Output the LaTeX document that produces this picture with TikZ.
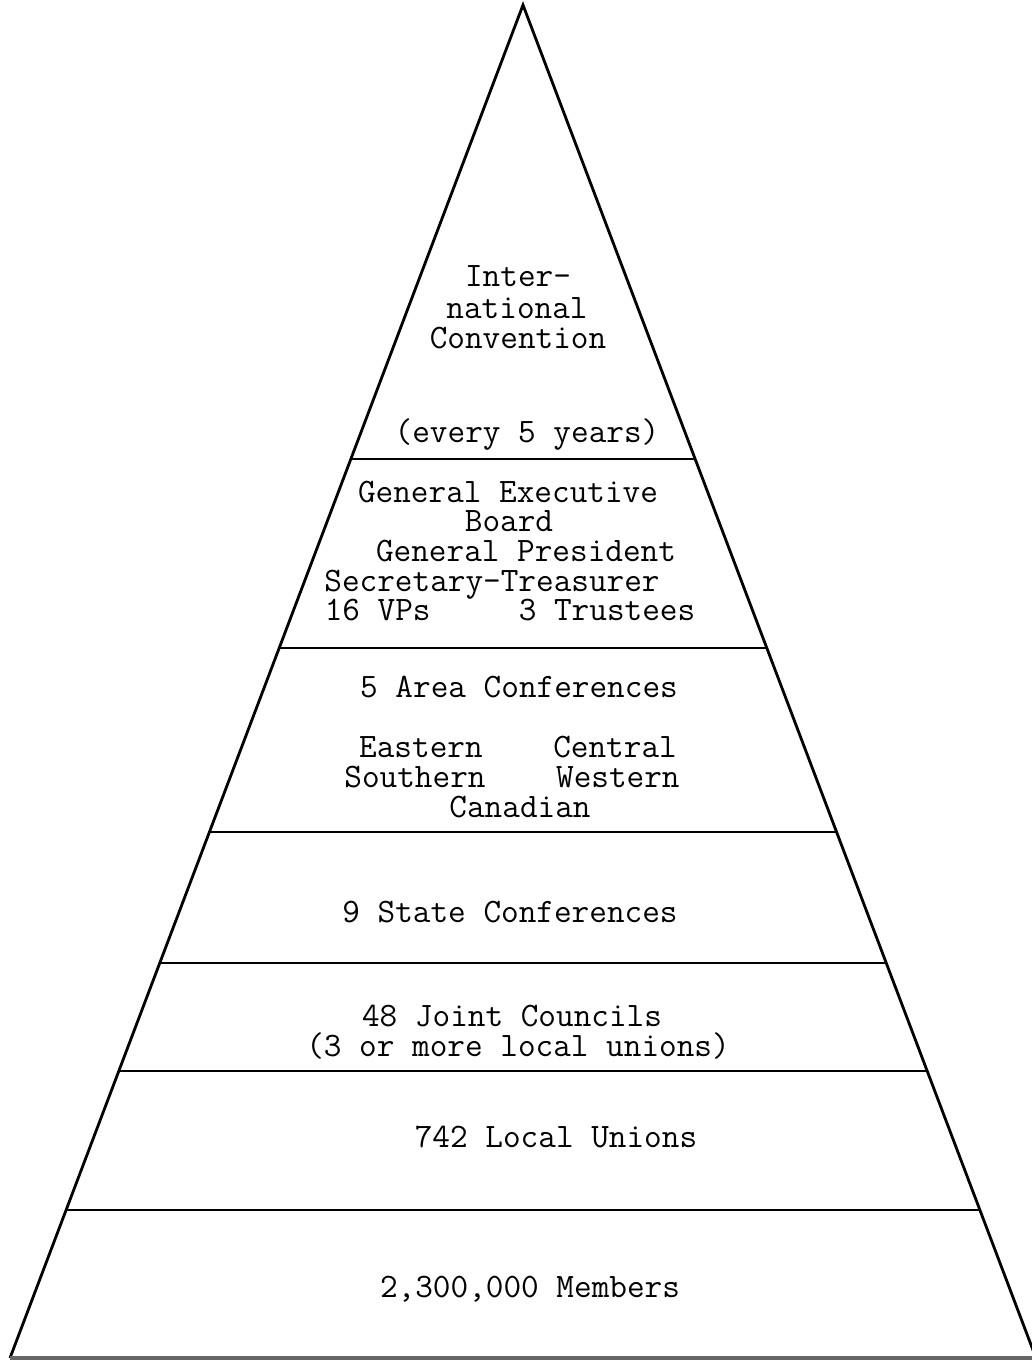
\documentclass[tikz,border=0pt]{standalone}
\usepackage{fontspec}
\usetikzlibrary{calc}
\tikzstyle{liney}=[anchor=base,inner sep=0pt,text height=11pt,text depth=3pt,font=\ttfamily\fontsize{19.5}{22}\selectfont]
\tikzstyle{tier}=[line width=1.6pt]

\begin{document}
\begin{tikzpicture}[x=0.02cm,y=-0.02cm]
    \useasboundingbox (0,0) rectangle (1031,1361);
    % outline of the pyramid
    \coordinate (top) at (523,5);
    \coordinate (bl) at (10,1358);
    \coordinate (br) at (1036,1358);
    \draw[tier,line join=miter] (bl) -- (top) -- (br);
    \draw[line width=2pt,black!60] (bl) -- (br);

    % tiers
    \foreach \name/\t in {d1/0.3355,d2/0.4752,d3/0.6112,d4/0.7080,d5/0.7879,d6/0.8906}{
        \coordinate (\name l) at ($(top)!\t!(bl)$);
        \coordinate (\name r) at ($(top)!\t!(br)$);
        \draw[tier] (\name l) -- (\name r);
    }

    \node[liney] (ic1) at (518,287) {Inter-};
    \node[liney] (ic2) at (517,319) {national};
    \node[liney] (ic3) at (518,349) {Convention};
    \node[liney] (ic4) at (527,442) {(every 5 years)};

    \node[liney] (gb1) at (508,502) {General Executive};
    \node[liney] (gb2) at (509,531) {Board};
    \node[liney] (gb3) at (526,561) {General President};
    \node[liney] (gb4) at (492,591) {Secretary-Treasurer};
    \node[liney] (gb5) at (510,620) {16 VPs\ \ \ \ \ 3 Trustees};

    \node[liney] (ac1) at (519,697) {5 Area Conferences};
    \node[liney] (ac2) at (518,757) {Eastern\ \ \ \ Central};
    \node[liney] (ac3) at (512,787) {Southern\ \ \ \ Western};
    \node[liney] (ac4) at (520,817) {Canadian};

    \node[liney] (sc) at (510,922) {9 State Conferences};

    \node[liney] (jc1) at (512,1026) {48 Joint Councils};
    \node[liney] (jc2) at (518,1056) {(3 or more local unions)};

    \node[liney] (lu) at (556,1147) {742 Local Unions};

    \node[liney] (mb) at (530,1297) {2,300,000 Members};
\end{tikzpicture}
\end{document}
